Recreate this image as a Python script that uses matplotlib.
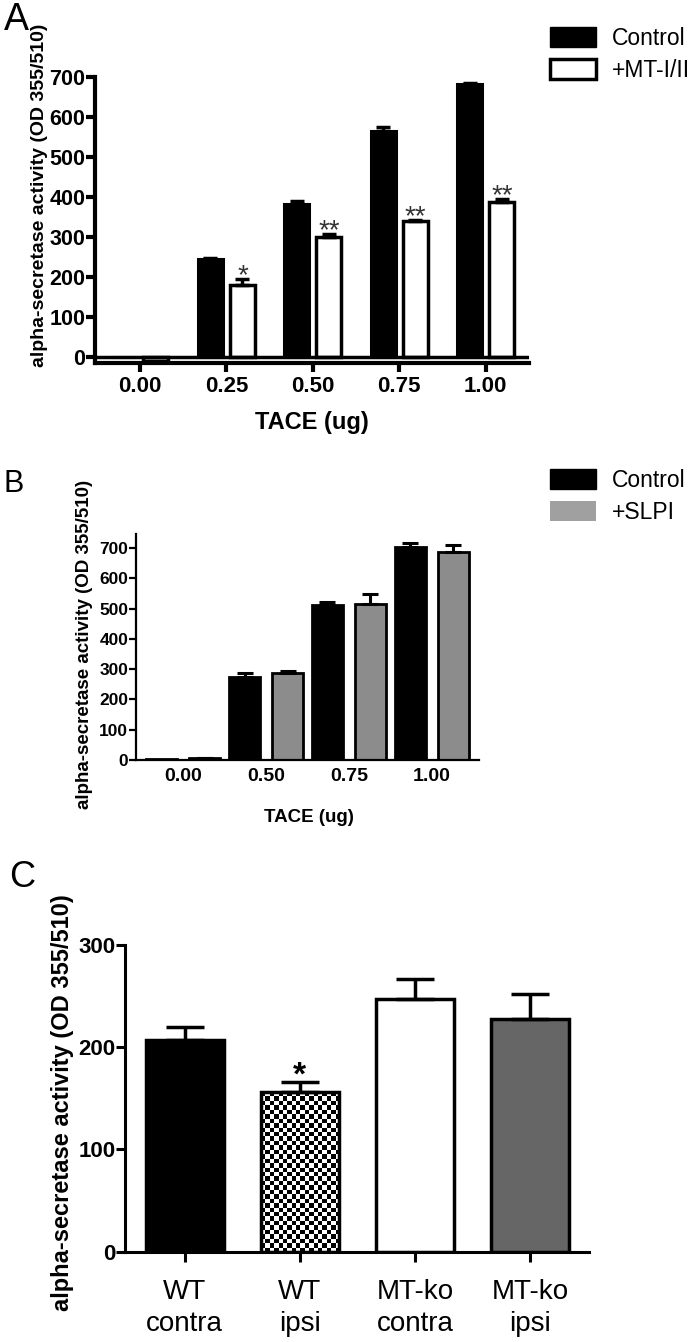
import numpy as np
import matplotlib
matplotlib.use("Agg")
import matplotlib.pyplot as plt
from matplotlib.patches import Patch

plt.rcParams['font.family'] = ['Liberation Sans', 'DejaVu Sans']

# ---- data ----
doses_a = ['0.00', '0.25', '0.50', '0.75', '1.00']
ctrl_a = [0, 246, 382, 565, 683]
ctrl_a_err = [0, 2, 7, 11, 3]
mt_a = [-10, 180, 300, 340, 388]
mt_a_err = [0, 16, 7, 2, 7]
stars_a = ['', '*', '**', '**', '**']

doses_b = ['0.00', '0.50', '0.75', '1.00']
ctrl_b = [3, 275, 513, 703]
ctrl_b_err = [0, 11, 8, 13]
slpi_b = [6, 288, 516, 687]
slpi_b_err = [1, 7, 33, 22]

groups_c = ['WT\ncontra', 'WT\nipsi', 'MT-ko\ncontra', 'MT-ko\nipsi']
vals_c = [207, 156, 247, 228]
err_c = [12.5, 10, 20, 24.5]
stars_c = ['', '*', '', '']

W, H = 693, 1342
fig = plt.figure(figsize=(W / 100, H / 100), dpi=100)


def px_axes(left, top, right, bottom):
    return fig.add_axes([left / W, 1 - bottom / H, (right - left) / W, (bottom - top) / H])


def ftext(x, y, s, **kw):
    return fig.text(x / W, 1 - y / H, s, **kw)


def up_err(ax, x, vals, errs, lw, cap):
    x = np.asarray(x, float)
    vals = np.asarray(vals, float)
    errs = np.asarray(errs, float)
    m = errs > 0
    ax.errorbar(x[m], vals[m], yerr=[np.zeros(m.sum()), errs[m]], fmt='none',
                ecolor='black', elinewidth=lw, capsize=cap, capthick=lw, zorder=3)


def style_axes(ax, lw):
    for s in ['top', 'right']:
        ax.spines[s].set_visible(False)
    for s in ['left', 'bottom']:
        ax.spines[s].set_linewidth(lw)


# ---- panel A ----
ax = px_axes(95, 77, 529, 363)
xa = np.arange(len(doses_a))
off, bw = 0.185, 0.29
ax.bar(xa - off, ctrl_a, bw, color='black', edgecolor='black', lw=2.2, zorder=2)
ax.bar(xa + off, mt_a, bw, color='white', edgecolor='black', lw=2.5, zorder=2)
up_err(ax, xa - off, ctrl_a, ctrl_a_err, 2.5, 5)
up_err(ax, xa + off, mt_a, mt_a_err, 2.5, 5)
for i, s in enumerate(stars_a):
    if s:
        ax.annotate(s, (xa[i] + off, mt_a[i] + mt_a_err[i]), xytext=(0, -3),
                    textcoords='offset points', ha='center', va='baseline',
                    fontsize=20, color='#333333')
ax.axhline(0, color='black', lw=2.5, zorder=4)
style_axes(ax, 3)
ax.set_xlim(-0.52, 4.5)
ax.set_ylim(-15, 700)
ax.set_yticks(range(0, 701, 100))
ax.set_yticklabels([str(v) for v in range(0, 701, 100)], fontweight='bold', fontsize=15.5)
ax.set_xticks(xa)
ax.set_xticklabels(doses_a, fontweight='bold', fontsize=16)
ax.tick_params(axis='y', length=6.5, width=3, pad=0.5)
ax.tick_params(axis='x', length=6.5, width=3, pad=3)
ax.legend([Patch(facecolor='black', edgecolor='black'),
           Patch(facecolor='white', edgecolor='black', linewidth=2.5)],
          ['Control', '+MT-I/II'], loc='upper left',
          bbox_to_anchor=(550 / W, 1 - 27 / H), bbox_transform=fig.transFigure,
          frameon=False, fontsize=16.5, handlelength=2.0, handleheight=0.95,
          handletextpad=0.7, labelspacing=0.4, borderpad=0, borderaxespad=0)
ftext(40, 195, 'alpha-secretase activity (OD 355/510)', rotation=90,
      ha='center', va='center', fontsize=14, fontweight='bold')
ftext(312, 422, 'TACE (ug)', ha='center', va='center', fontsize=17, fontweight='bold')
ftext(4, 30, 'A', ha='left', va='baseline', fontsize=27)

# ---- panel B ----
ax = px_axes(136, 534, 479, 760)
xb = np.arange(len(doses_b))
off, bw = 0.26, 0.37
ax.bar(xb - off, ctrl_b, bw, color='black', edgecolor='black', lw=2, zorder=2)
ax.bar(xb + off, slpi_b, bw, color='#8c8c8c', edgecolor='black', lw=2, zorder=2)
up_err(ax, xb - off, ctrl_b, ctrl_b_err, 2.2, 5.5)
up_err(ax, xb + off, slpi_b, slpi_b_err, 2.2, 5.5)
style_axes(ax, 1.6)
ax.set_xlim(-0.57, 3.57)
ax.set_ylim(0, 746)
ax.set_yticks(range(0, 701, 100))
ax.set_yticklabels([str(v) for v in range(0, 701, 100)], fontweight='bold', fontsize=12.5)
ax.set_xticks(xb)
ax.set_xticklabels(doses_b, fontweight='bold', fontsize=14)
ax.tick_params(axis='y', length=5, width=1.6, pad=0.5)
ax.tick_params(axis='x', length=0, pad=6)
ax.legend([Patch(facecolor='black', edgecolor='black'),
           Patch(facecolor='#a0a0a0', edgecolor='none')],
          ['Control', '+SLPI'], loc='upper left',
          bbox_to_anchor=(550 / W, 1 - 469 / H), bbox_transform=fig.transFigure,
          frameon=False, fontsize=16.5, handlelength=2.0, handleheight=0.95,
          handletextpad=0.7, labelspacing=0.4, borderpad=0, borderaxespad=0)
ftext(85, 644, 'alpha-secretase activity (OD 355/510)', rotation=90,
      ha='center', va='center', fontsize=13.5, fontweight='bold')
ftext(309, 818, 'TACE (ug)', ha='center', va='center', fontsize=13.5, fontweight='bold')
ftext(3, 492, 'B', ha='left', va='baseline', fontsize=22)

# ---- panel C ----
ax = px_axes(125, 945, 588.5, 1251.7)
xc = np.arange(len(groups_c))
bars = ax.bar(xc, vals_c, 0.68, color=['black', 'none', 'white', '#666666'],
              edgecolor='black', lw=2.5, zorder=2)
# checkerboard fill for WT ipsi
b = bars[1]
bx, by, bwid, bh = b.get_x(), b.get_y(), b.get_width(), b.get_height()
ncol = 18
nrow = int(round(bh / 4.3))
checker = np.indices((nrow, ncol)).sum(axis=0) % 2
im = ax.imshow(checker, cmap='gray', extent=(bx, bx + bwid, by, by + bh),
               aspect='auto', interpolation='nearest', zorder=1)
im.set_clip_path(b)
up_err(ax, xc, vals_c, err_c, 2.5, 14)
for i, s in enumerate(stars_c):
    if s:
        ax.annotate(s, (xc[i], vals_c[i] + err_c[i]), xytext=(0, -2),
                    textcoords='offset points', ha='center', va='baseline',
                    fontsize=24, fontweight='bold')
style_axes(ax, 2.2)
ax.set_xlim(-0.52, 3.51)
ax.set_ylim(0, 300)
ax.set_yticks([0, 100, 200, 300])
ax.set_yticklabels(['0', '100', '200', '300'], fontweight='bold', fontsize=16)
ax.set_xticks(xc)
ax.set_xticklabels(groups_c, fontsize=20, linespacing=1.3)
ax.tick_params(axis='y', length=6.5, width=2.2, pad=0.5)
ax.tick_params(axis='x', length=7.5, width=2.2, pad=12)
ftext(63, 1103, 'alpha-secretase activity (OD 355/510)', rotation=90,
      ha='center', va='center', fontsize=17, fontweight='bold')
ftext(9, 887, 'C', ha='left', va='baseline', fontsize=26)

fig.savefig('out.png', dpi=100)
